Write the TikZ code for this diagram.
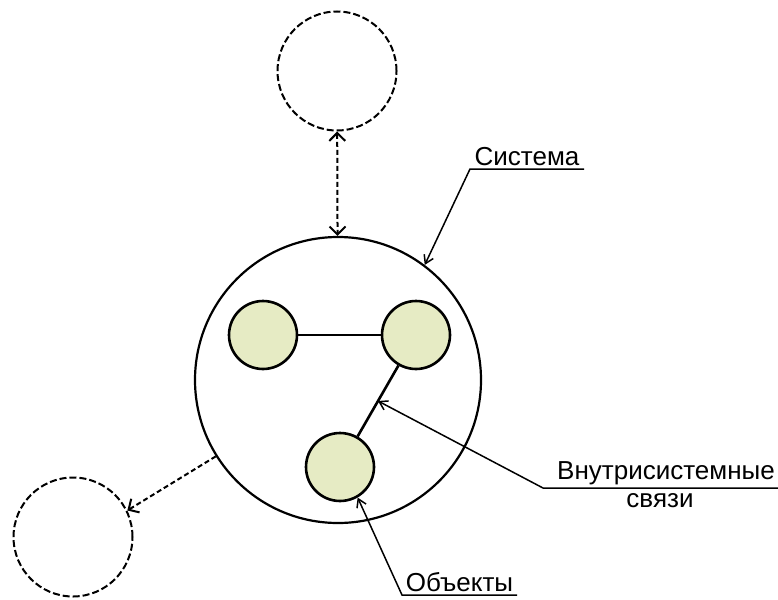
\documentclass[tikz,border=0pt]{standalone}
\usepackage{fontspec}
\setmainfont{Liberation Sans}
\usepackage{tikz}
\usetikzlibrary{arrows.meta}
\usetikzlibrary{calc}
\usetikzlibrary{positioning}
\definecolor{objfill}{RGB}{230,235,196}
\begin{document}
\begin{tikzpicture}[
  x=1pt,y=-1pt,
  every node/.style={align=center},
  system/.style={draw,circle,line width=2.2pt,minimum size=286pt,inner sep=0pt},
  outer/.style={draw,circle,dash pattern=on 7pt off 3pt,line width=2pt,minimum size=119pt,inner sep=0pt},
  object/.style={draw,circle,line width=2.6pt,fill=objfill,minimum size=68pt,inner sep=0pt},
  link/.style={line width=2.6pt},
  envlink/.style={dash pattern=on 5pt off 3pt,line width=2pt},
  tip/.tip={Straight Barb[length=8pt,width=16pt,line width=2pt,sharp]},
  ptip/.tip={Straight Barb[length=8pt,width=10pt,line width=1.5pt,sharp]},
  pointer/.style={-ptip,line width=1.5pt},
  lbl/.style={font=\fontsize{26}{30}\selectfont,inner sep=3pt}]

  \useasboundingbox (0,0) rectangle (778,599);

  % Nodes: system, environment, objects
  \node[system] (sys) at (338,380) {};
  \node[outer] (envtop) at (337,71) {};
  \node[outer] (envleft) at (73,537) {};

  \node[object] (obj1) at (263,335) {};
  \node[object] (obj2) at (416,335) {};
  \node[object] (obj3) at (340,467) {};

  % Links inside the system
  \draw[link] (obj1) -- (obj2);
  \draw[link] (obj2) -- coordinate[midway] (lnk) (obj3);

  % Links to the environment
  \draw[envlink,tip-tip] (envtop) -- (sys);
  \draw[envlink,-tip] (sys.212) -- (envleft.26);

  % Labels with leader lines
  \coordinate (sysL) at (470,169);
  \coordinate (sysR) at (584,169);
  \node[lbl,anchor=south] (syslbl) at ($(sysL)!.5!(sysR)$) {Система};
  \draw[pointer] (sysR) -- (sysL) -- (sys.53);

  \coordinate (lnkL) at (543,488);
  \coordinate (lnkR) at (778,488);
  \node[lbl,anchor=south] (lnklbl) at (666,488) {Внутрисистемные};
  \node[lbl,anchor=north] (lnklbl2) at (660,490) {связи};
  \draw[pointer] (lnkR) -- (lnkL) -- (lnk);

  \coordinate (objL) at (402,595);
  \coordinate (objR) at (517,595);
  \node[lbl,anchor=south] (objlbl) at ($(objL)!.5!(objR)$) {Объекты};
  \draw[pointer] (objR) -- (objL) -- (obj3.-60);
\end{tikzpicture}
\end{document}
